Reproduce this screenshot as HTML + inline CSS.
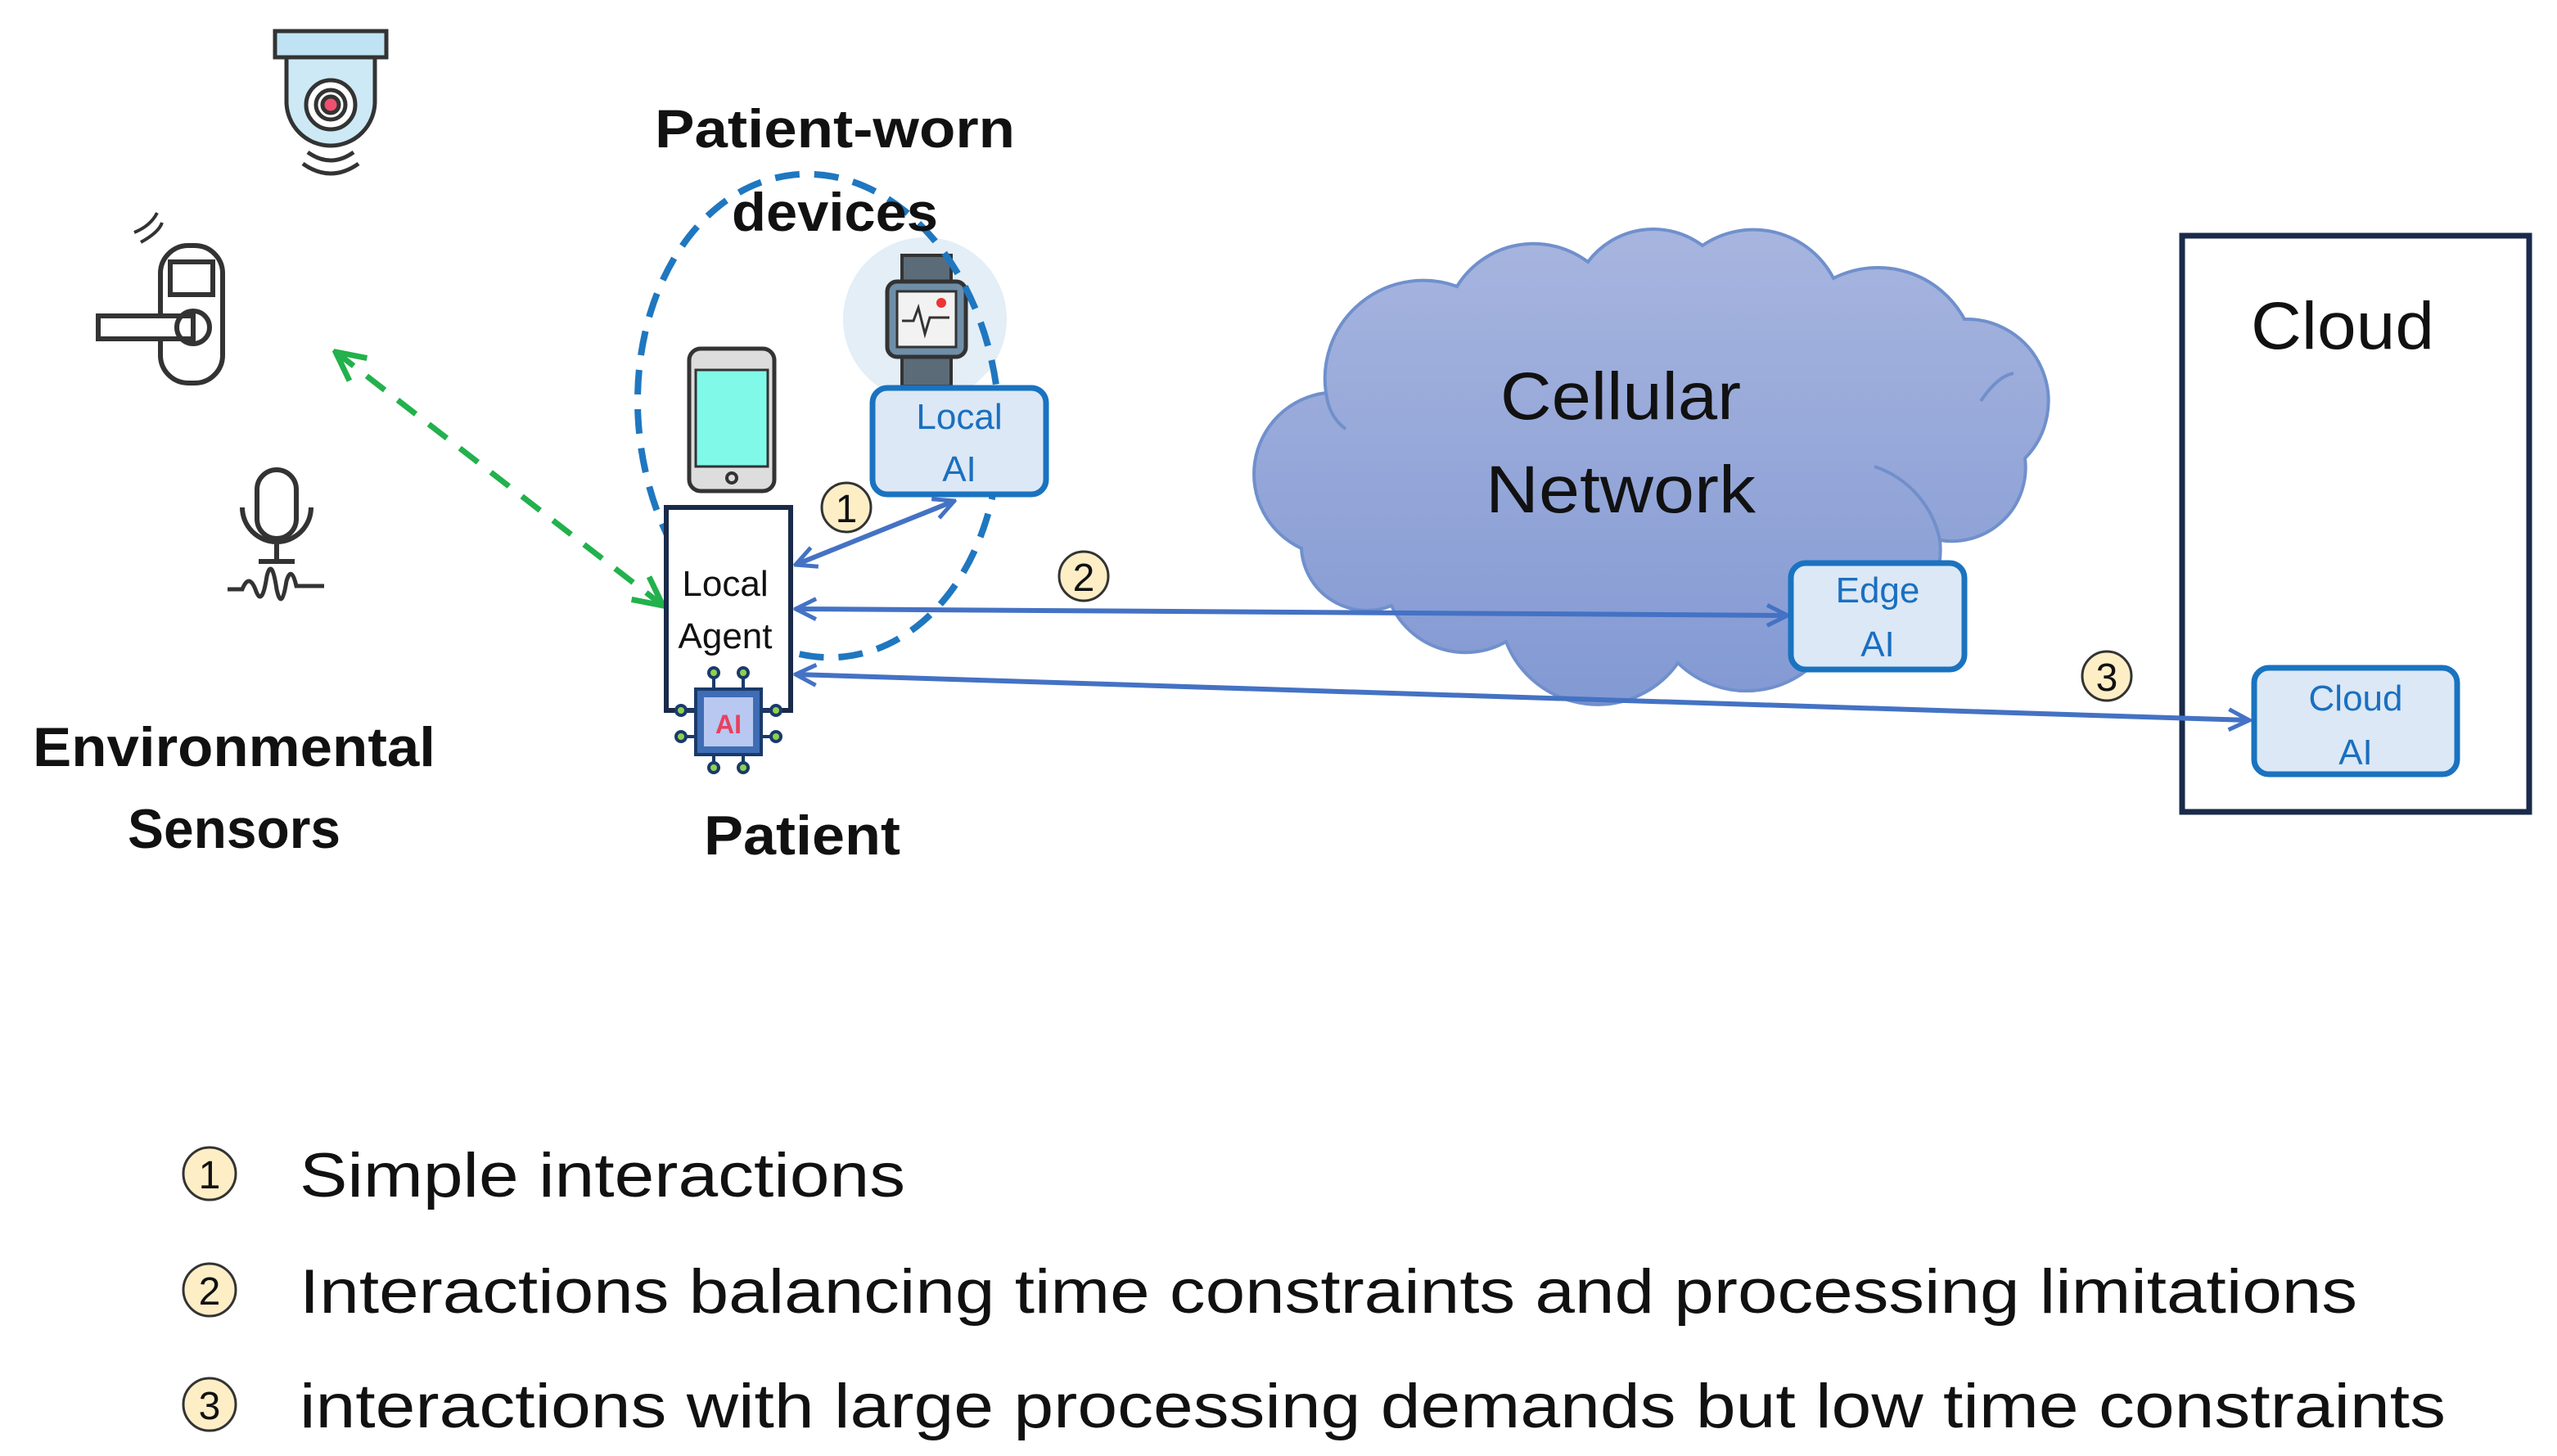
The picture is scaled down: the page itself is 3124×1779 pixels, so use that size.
<!DOCTYPE html>
<html><head><meta charset="utf-8"><style>
html,body{margin:0;padding:0;background:#fff}
svg{display:block}
text{font-family:"Liberation Sans",sans-serif}
</style></head><body>
<svg width="3124" height="1779" viewBox="0 0 1562 889.5" xmlns="http://www.w3.org/2000/svg">
<defs>
<linearGradient id="cg" x1="0" y1="0" x2="0" y2="1"><stop offset="0" stop-color="#a7b5df"/><stop offset="1" stop-color="#8399d3"/></linearGradient>
<marker id="ab" viewBox="0 0 12 12" refX="11" refY="6" markerWidth="5" markerHeight="5" orient="auto-start-reverse"><path d="M1 1 L11 6 L1 11" fill="none" stroke="#4472c4" stroke-width="2"/></marker>
<marker id="ag" viewBox="0 0 12 12" refX="11" refY="6" markerWidth="6" markerHeight="6" orient="auto-start-reverse"><path d="M1 1 L11 6 L1 11" fill="none" stroke="#22b14c" stroke-width="2"/></marker>
</defs>

<!-- camera -->
<g stroke="#333" stroke-width="2.5" fill="none">
<rect x="168" y="19" width="68" height="16" fill="#bfe3f3"/>
<path d="M175 35 V62 A27 27 0 0 0 229 62 V35 Z" fill="#cde9f6"/>
<circle cx="202" cy="64" r="15" fill="#fff"/><circle cx="202" cy="64" r="9" fill="#fff"/><circle cx="202" cy="64" r="5" fill="#f0506e"/>
<path d="M188 93 Q202 103 216 93 M185 100 Q202 112 219 100"/>
</g>
<!-- lock -->
<g stroke="#333" stroke-width="3" fill="none">
<rect x="98" y="150" width="38" height="84" rx="17"/>
<rect x="104" y="160" width="26" height="20"/>
<rect x="60" y="193" width="58" height="14" fill="#fff"/>
<circle cx="118" cy="200" r="10"/>
<path d="M82 142 Q92 138 96 130 M86 148 Q97 142 99 136" stroke-width="2"/>
</g>
<!-- mic -->
<g stroke="#333" stroke-width="3" fill="none">
<rect x="157" y="287" width="24" height="42" rx="12"/>
<path d="M148 310 A21 21 0 0 0 190 310 M169 331 V343 M158 343 H180"/>
<path d="M139 360 H148 Q152 350 156 360 Q160 372 163 352 Q166 340 169 360 Q172 374 175 355 Q178 345 181 358 H198" stroke-width="2.5"/>
</g>

<text x="143" y="468" font-size="34" font-weight="bold" text-anchor="middle" fill="#111" textLength="246" lengthAdjust="spacingAndGlyphs">Environmental</text>
<text x="143" y="518" font-size="34" font-weight="bold" text-anchor="middle" fill="#111" textLength="130" lengthAdjust="spacingAndGlyphs">Sensors</text>

<!-- green dashed -->
<line x1="205" y1="215" x2="405" y2="370" stroke="#22b14c" stroke-width="3.5" stroke-dasharray="14 10" marker-start="url(#ag)" marker-end="url(#ag)"/>

<!-- watch glow -->
<circle cx="565" cy="195" r="50" fill="#e3eef7"/>
<!-- phone -->
<rect x="421" y="213" width="52" height="87" rx="7" fill="#ddd" stroke="#333" stroke-width="2.5"/>
<rect x="425" y="226" width="44" height="59" fill="#80f9e9" stroke="#333" stroke-width="1.5"/>
<circle cx="447" cy="292" r="3" fill="none" stroke="#333" stroke-width="2"/>
<!-- watch -->
<rect x="551" y="156" width="30" height="22" fill="#5b6b78" stroke="#333" stroke-width="2"/>
<rect x="551" y="214" width="30" height="22" fill="#5b6b78" stroke="#333" stroke-width="2"/>
<rect x="542" y="172" width="48" height="46" rx="6" fill="#6f8ea8" stroke="#333" stroke-width="2.5"/>
<rect x="548" y="178" width="36" height="34" fill="#f2f2f2" stroke="#333" stroke-width="1.5"/>
<path d="M551 196 H558 L561 188 L565 204 L568 194 H580" fill="none" stroke="#333" stroke-width="1.5"/>
<circle cx="575" cy="185" r="3" fill="#e33"/>

<!-- dashed ellipse -->
<ellipse cx="500" cy="254" rx="110" ry="148" fill="none" stroke="#1f77c0" stroke-width="4" stroke-dasharray="15 9" transform="rotate(-6 500 254)"/>

<text x="510" y="90" font-size="33" font-weight="bold" text-anchor="middle" fill="#111" textLength="220" lengthAdjust="spacingAndGlyphs">Patient-worn</text>
<text x="510" y="141" font-size="33" font-weight="bold" text-anchor="middle" fill="#111" textLength="126" lengthAdjust="spacingAndGlyphs">devices</text>

<!-- local AI -->
<rect x="533" y="237" width="106" height="65" rx="9" fill="#dce8f5" stroke="#1a73c0" stroke-width="3.5"/>
<text x="586" y="262" font-size="22" text-anchor="middle" fill="#1a6fc0">Local</text>
<text x="586" y="294" font-size="22" text-anchor="middle" fill="#1a6fc0">AI</text>

<!-- cloud -->
<path d="M795 335 A50 50 0 0 1 810 240 A60 60 0 0 1 890 175 A55 55 0 0 1 970 160 A50 50 0 0 1 1040 150 A55 55 0 0 1 1120 170 A60 60 0 0 1 1200 195 A50 50 0 0 1 1237 280 A45 45 0 0 1 1185 330 A55 55 0 0 1 1120 390 A60 60 0 0 1 1025 405 A60 60 0 0 1 920 392 A50 50 0 0 1 850 370 A40 40 0 0 1 795 335 Z" fill="url(#cg)" stroke="#7090cc" stroke-width="2"/>
<path d="M1145 285 A60 60 0 0 1 1185 330 M810 240 Q812 255 822 262 M1210 245 Q1220 230 1230 228" fill="none" stroke="#7090cc" stroke-width="2"/>
<text x="990" y="256" font-size="41" text-anchor="middle" fill="#111" textLength="147" lengthAdjust="spacingAndGlyphs">Cellular</text>
<text x="990" y="313" font-size="41" text-anchor="middle" fill="#111" textLength="165" lengthAdjust="spacingAndGlyphs">Network</text>

<!-- cloud box -->
<rect x="1333" y="144" width="212" height="352" fill="none" stroke="#1a2a4a" stroke-width="3.5"/>
<text x="1431" y="213" font-size="41" text-anchor="middle" fill="#111" textLength="112" lengthAdjust="spacingAndGlyphs">Cloud</text>

<!-- arrows -->
<line x1="486" y1="345" x2="583" y2="306" stroke="#4472c4" stroke-width="3" marker-start="url(#ab)" marker-end="url(#ab)"/>
<line x1="486" y1="372" x2="1092" y2="376" stroke="#4472c4" stroke-width="3" marker-start="url(#ab)" marker-end="url(#ab)"/>
<line x1="486" y1="412" x2="1374" y2="440" stroke="#4472c4" stroke-width="3" marker-start="url(#ab)" marker-end="url(#ab)"/>

<!-- edge AI -->
<rect x="1094" y="344" width="106" height="65" rx="9" fill="#dce8f5" stroke="#1a73c0" stroke-width="3.5"/>
<text x="1147" y="368" font-size="22" text-anchor="middle" fill="#1a6fc0">Edge</text>
<text x="1147" y="401" font-size="22" text-anchor="middle" fill="#1a6fc0">AI</text>
<!-- cloud AI -->
<rect x="1377" y="408" width="124" height="65" rx="9" fill="#dce8f5" stroke="#1a73c0" stroke-width="3.5"/>
<text x="1439" y="434" font-size="22" text-anchor="middle" fill="#1a6fc0">Cloud</text>
<text x="1439" y="467" font-size="22" text-anchor="middle" fill="#1a6fc0">AI</text>

<!-- local agent -->
<rect x="407" y="310" width="76" height="124" fill="#fff" stroke="#1a2a4a" stroke-width="3"/>
<text x="443" y="364" font-size="22" text-anchor="middle" fill="#111">Local</text>
<text x="443" y="396" font-size="22" text-anchor="middle" fill="#111">Agent</text>
<!-- chip -->
<g stroke="#1a3a6a" stroke-width="2" fill="#8fd14f">
<path d="M436 420 V412 M454 420 V412 M436 462 V468 M454 462 V468 M425 434 H417 M425 450 H417 M465 434 H473 M465 450 H473" fill="none"/>
<circle cx="436" cy="411" r="3"/><circle cx="454" cy="411" r="3"/><circle cx="436" cy="469" r="3"/><circle cx="454" cy="469" r="3"/>
<circle cx="416" cy="434" r="3"/><circle cx="416" cy="450" r="3"/><circle cx="474" cy="434" r="3"/><circle cx="474" cy="450" r="3"/>
<rect x="425" y="421" width="40" height="40" fill="#3f6db5"/>
<rect x="430" y="426" width="30" height="30" fill="#b8c8f0" stroke="none"/>
</g>
<text x="445" y="448" font-size="16" font-family="Liberation Mono" font-weight="bold" text-anchor="middle" fill="#e84060">AI</text>

<text x="490" y="522" font-size="34" font-weight="bold" text-anchor="middle" fill="#111" textLength="120" lengthAdjust="spacingAndGlyphs">Patient</text>

<!-- number circles -->
<g stroke="#333" stroke-width="1.5" fill="#fdeec6">
<circle cx="517" cy="310" r="15"/><circle cx="662" cy="352" r="15"/><circle cx="1287" cy="413" r="15"/>
<circle cx="128" cy="717" r="16"/><circle cx="128" cy="788" r="16"/><circle cx="128" cy="858" r="16"/>
</g>
<g font-size="24" text-anchor="middle" fill="#111">
<text x="517" y="319">1</text><text x="662" y="361">2</text><text x="1287" y="422">3</text>
<text x="128" y="726">1</text><text x="128" y="797">2</text><text x="128" y="867">3</text>
</g>

<g font-size="38" fill="#111">
<text x="183" y="731" textLength="370" lengthAdjust="spacingAndGlyphs">Simple interactions</text>
<text x="183" y="802" textLength="1257" lengthAdjust="spacingAndGlyphs">Interactions balancing time constraints and processing limitations</text>
<text x="183" y="872" textLength="1311" lengthAdjust="spacingAndGlyphs">interactions with large processing demands but low time constraints</text>
</g>
</svg>
</body></html>
